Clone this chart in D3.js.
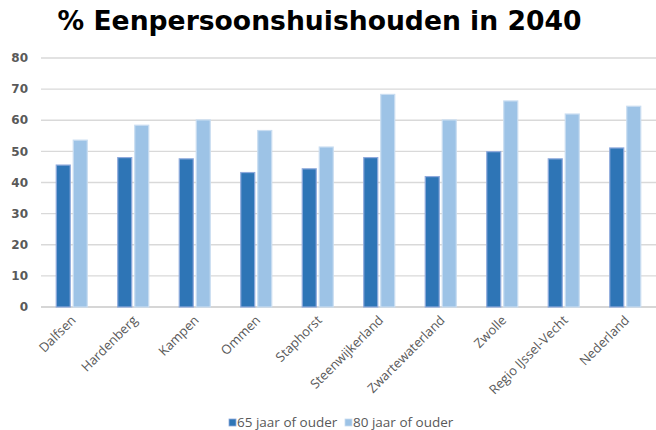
<!DOCTYPE html>
<html>
<head>
<meta charset="utf-8">
<script src="https://cdn.jsdelivr.net/npm/d3@7"></script>
<style>
  body { margin: 0; background: #fff; }
  svg { display: block; }
</style>
</head>
<body>
<div id="chart"></div>
<script>
// data
const categories = ["Dalfsen", "Hardenberg", "Kampen", "Ommen", "Staphorst",
  "Steenwijkerland", "Zwartewaterland", "Zwolle", "Regio IJssel-Vecht", "Nederland"];
const series = ["65 jaar of ouder", "80 jaar of ouder"];
const values65 = [45.6, 48.0, 47.6, 43.2, 44.4, 48.0, 41.9, 49.9, 47.6, 51.1];
const values80 = [53.6, 58.4, 60.1, 56.7, 51.4, 68.3, 60.1, 66.2, 62.0, 64.5];
const yTicks = [0, 10, 20, 30, 40, 50, 60, 70, 80];

const WIDTH = 656, HEIGHT = 430;
const MARGINS = {left: 41, right: 0, top: 58, bottom: 123};
const colors = ["#2E75B6", "#9DC3E6"];
const strokes = ["#8FAADC", "#C9DDF1"];

const svg = d3.select("#chart").append("svg")
  .attr("width", WIDTH).attr("height", HEIGHT);

const x = d3.scaleBand()
  .domain(categories)
  .range([MARGINS.left, WIDTH - MARGINS.right]);

const y = d3.scaleLinear()
  .domain([0, 80])
  .range([HEIGHT - MARGINS.bottom, MARGINS.top]);

// gridlines
svg.append("g")
  .selectAll("line")
  .data(yTicks)
  .enter().append("line")
    .attr("x1", MARGINS.left).attr("x2", WIDTH - MARGINS.right)
    .attr("y1", d => y(d)).attr("y2", d => y(d))
    .attr("stroke", d => d === 0 ? "#c8c8c8" : "#d9d9d9")
    .attr("stroke-width", 1.3);

// y labels
svg.append("g")
  .selectAll("text")
  .data(yTicks)
  .enter().append("text")
    .attr("x", 28)
    .attr("y", d => y(d))
    .attr("dy", "0.35em")
    .attr("text-anchor", "end")
    .attr("font-family", "DejaVu Sans")
    .attr("font-weight", "bold")
    .attr("font-size", "12px")
    .attr("fill", "#595959")
    .text(d => d);

// bars
const barW = 14, gap = 3;
const rows = categories.map((c, i) => ({cat: c, vals: [values65[i], values80[i]]}));
const groups = svg.append("g").selectAll("g")
  .data(rows)
  .enter().append("g")
    .attr("transform", d => "translate(" + (x(d.cat) + x.bandwidth() / 2) + ",0)");

groups.selectAll("rect")
  .data(d => d.vals.map((v, k) => ({v: v, k: k})))
  .enter().append("rect")
    .attr("x", d => d.k === 0 ? -barW - gap / 2 : gap / 2)
    .attr("y", d => y(d.v))
    .attr("width", barW)
    .attr("height", d => y(0) - y(d.v))
    .attr("fill", d => colors[d.k])
    .attr("stroke", d => strokes[d.k])
    .attr("stroke-width", 1.2);

// x labels, rotated
svg.append("g")
  .selectAll("text")
  .data(categories)
  .enter().append("text")
    .attr("transform", d => "translate(" + (x(d) + x.bandwidth() / 2 + 5) + "," + (y(0) + 14) + ") rotate(-45)")
    .attr("text-anchor", "end")
    .attr("font-family", "Open Sans")
    .attr("font-size", "13px")
    .attr("fill", "#595959")
    .text(d => d);

// title
svg.append("text")
  .attr("x", 319.5)
  .attr("y", 30)
  .attr("text-anchor", "middle")
  .attr("font-family", "DejaVu Sans")
  .attr("font-weight", "bold")
  .attr("font-size", "26.6px")
  .attr("fill", "#000")
  .text("% Eenpersoonshuishouden in 2040");

// legend
const legend = svg.append("g");
const legX = [229, 345];
series.forEach((s, i) => {
  legend.append("rect")
    .attr("x", legX[i]).attr("y", 419)
    .attr("width", 7).attr("height", 7)
    .attr("fill", colors[i])
    .attr("stroke", strokes[i]).attr("stroke-width", 0.8);
  legend.append("text")
    .attr("x", legX[i] + 8).attr("y", 427)
    .attr("font-family", "Open Sans")
    .attr("font-size", "13.5px")
    .attr("fill", "#595959")
    .text(s);
});
</script>
</body>
</html>
